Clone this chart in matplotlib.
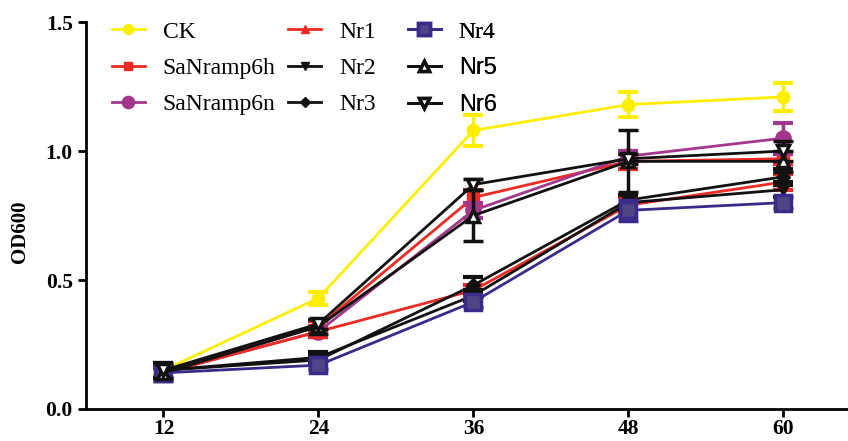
import matplotlib
matplotlib.use("Agg")
import matplotlib.pyplot as plt
from matplotlib.font_manager import FontProperties

hours = [12, 24, 36, 48, 60]
series_names = ["CK", "SaNramp6h", "SaNramp6n", "Nr1", "Nr2", "Nr3", "Nr4", "Nr5", "Nr6"]

ck = [0.15, 0.43, 1.08, 1.18, 1.21]
sanramp6h = [0.14, 0.32, 0.82, 0.96, 0.97]
sanramp6n = [0.14, 0.30, 0.77, 0.98, 1.05]
nr1 = [0.14, 0.30, 0.46, 0.79, 0.88]
nr2 = [0.15, 0.20, 0.44, 0.80, 0.85]
nr3 = [0.15, 0.19, 0.48, 0.81, 0.90]
nr4 = [0.14, 0.17, 0.415, 0.77, 0.80]
nr5 = [0.14, 0.32, 0.75, 0.96, 0.96]
nr6 = [0.15, 0.33, 0.87, 0.97, 1.00]

ck_err = [0.02, 0.025, 0.06, 0.05, 0.055]
sanramp6h_err = [0.02, 0.02, 0.03, 0.03, 0.02]
sanramp6n_err = [0.02, 0.02, 0.03, 0.02, 0.06]
nr1_err = [0.02, 0.02, 0.02, 0.03, 0.03]
nr2_err = [0.03, 0.02, 0.02, 0.03, 0.03]
nr3_err = [0.03, 0.02, 0.03, 0.02, 0.03]
nr4_err = [0.02, 0.015, 0.02, 0.04, 0.02]
nr5_err = [0.03, 0.03, 0.10, 0.12, 0.04]
nr6_err = [0.03, 0.02, 0.02, 0.02, 0.04]

values = [ck, sanramp6h, sanramp6n, nr1, nr2, nr3, nr4, nr5, nr6]
errors = [ck_err, sanramp6h_err, sanramp6n_err, nr1_err, nr2_err, nr3_err, nr4_err, nr5_err, nr6_err]

styles = [
    dict(color="#FFEE00", marker="o", mfc="#FFEE00", mec="#FFEE00", ms=9),
    dict(color="#EE2A24", marker="s", mfc="#EE2A24", mec="#EE2A24", ms=8),
    dict(color="#A3378C", marker="o", mfc="#A3378C", mec="#A3378C", ms=11),
    dict(color="#EE2A24", marker="^", mfc="#EE2A24", mec="#EE2A24", ms=8),
    dict(color="#111111", marker="v", mfc="#111111", mec="#111111", ms=8),
    dict(color="#111111", marker="D", mfc="#111111", mec="#111111", ms=7),
    dict(color="#3B2A8A", marker="s", mfc="#4E4585", mec="#3B2A8A", ms=11, mew=2.5),
    dict(color="#111111", marker="^", mfc="white", mec="#111111", ms=9, mew=2.5),
    dict(color="#111111", marker="v", mfc="white", mec="#111111", ms=9, mew=2.5),
]

fig = plt.figure(figsize=(8.48, 4.41), dpi=100)
ax = fig.add_axes([0.1014, 0.0726, 0.8986, 0.8774])

order = [1, 2, 3, 4, 5, 7, 8, 6, 0]
handles = {}
for i in order:
    st = dict(styles[i])
    col = st.pop("color")
    eb = ax.errorbar(hours, values[i], yerr=errors[i], color=col, lw=2,
                     elinewidth=2.5, capsize=7, capthick=3, ecolor=col,
                     zorder=3 + i * 0.1, **st)
    handles[i] = eb[0]

ax.set_xlim(6, 65)
ax.set_ylim(0, 1.5)
ax.set_xticks(hours)
ax.set_yticks([0.0, 0.5, 1.0, 1.5])
ax.set_yticklabels(["0.0", "0.5", "1.0", "1.5"])
for s in ["top", "right"]:
    ax.spines[s].set_visible(False)
for s in ["left", "bottom"]:
    ax.spines[s].set_linewidth(2)
ax.tick_params(width=2, length=6, direction="out")
ax.tick_params(axis="x", pad=1.5)
serif_bold = FontProperties(family="Liberation Serif", weight="bold", size=15.5)
for lab in ax.get_xticklabels() + ax.get_yticklabels():
    lab.set_fontproperties(serif_bold)
ax.set_ylabel("OD600", fontproperties=FontProperties(family="Liberation Serif", weight="bold", size=15))
ax.yaxis.set_label_coords(-0.074, 0.457)

col_x = [0.132, 0.340, 0.481]
for c in range(3):
    idx = [3 * c, 3 * c + 1, 3 * c + 2]
    leg = ax.legend([handles[i] for i in idx], [series_names[i] for i in idx],
                    loc="upper left", bbox_to_anchor=(col_x[c], 0.952),
                    bbox_transform=fig.transFigure, frameon=False,
                    prop=FontProperties(family="Liberation Serif", size=17),
                    handlelength=1.4, handletextpad=0.75, labelspacing=0.62,
                    borderpad=0, borderaxespad=0, markerscale=0.8)
    for t in leg.get_texts():
        if t.get_text() in ("Nr5", "Nr6"):
            t.set_fontproperties(FontProperties(family="Liberation Sans", size=17))
    ax.add_artist(leg)

fig.savefig("out.png", dpi=100)
